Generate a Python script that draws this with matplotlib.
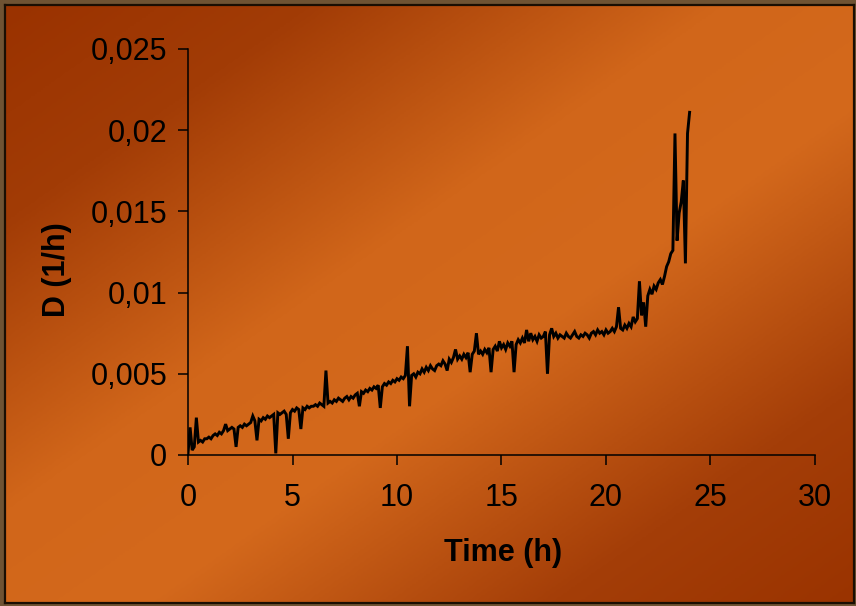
import numpy as np
import matplotlib
matplotlib.use("Agg")
import matplotlib.pyplot as plt
from matplotlib.colors import LinearSegmentedColormap
from matplotlib.ticker import FuncFormatter

# ---- data (D in units of 1e-3 1/h, sampled every 0.1 h) ----
time_h = np.round(np.arange(0, 24.05, 0.1), 1)
d_milli = [
    0.1, 1.7, 0.3, 0.5, 2.3, 0.8, 0.9, 0.8, 1.0, 1.0,
    1.1, 1.0, 1.2, 1.3, 1.2, 1.4, 1.3, 1.5, 1.9, 1.5,
    1.6, 1.7, 1.6, 0.5, 1.7, 1.8, 1.7, 1.9, 1.8, 1.9,
    2.0, 2.4, 2.1, 0.9, 2.2, 2.1, 2.3, 2.2, 2.4, 2.3,
    2.4, 2.5, 0.1, 2.6, 2.5, 2.6, 2.7, 2.5, 1.0, 2.6,
    2.8, 2.7, 2.9, 2.8, 1.6, 2.9, 2.8, 3.0, 2.9, 3.0,
    3.0, 3.1, 3.0, 3.2, 3.1, 3.0, 5.2, 3.2, 3.3, 3.2,
    3.4, 3.3, 3.5, 3.4, 3.3, 3.5, 3.6, 3.4, 3.6, 3.5,
    3.7, 3.8, 3.0, 3.9, 3.8, 4.0, 3.9, 4.1, 4.0, 4.2,
    4.1, 4.3, 2.9, 4.2, 4.4, 4.3, 4.5, 4.4, 4.6, 4.5,
    4.7, 4.6, 4.8, 4.7, 4.9, 6.7, 3.0, 4.9, 5.0, 4.8,
    5.1, 5.0, 5.3, 5.1, 5.4, 5.2, 5.5, 5.3, 5.2, 5.5,
    5.6, 5.5, 5.8, 5.6, 5.2, 5.9, 5.7, 6.0, 6.5, 5.9,
    6.1, 5.9, 6.2, 6.0, 6.3, 5.1, 6.2, 6.4, 7.5, 6.2,
    6.4, 6.2, 6.5, 6.3, 6.6, 5.1, 6.5, 6.7, 6.4, 7.0,
    6.6, 6.8, 6.5, 6.9, 6.7, 7.0, 5.1, 6.8, 7.1, 6.9,
    7.2, 6.9, 7.7, 7.0, 7.5, 7.1, 7.3, 7.0, 7.4, 7.2,
    7.3, 7.6, 5.0, 7.4, 7.8, 7.3, 7.5, 7.2, 7.4, 7.3,
    7.2, 7.5, 7.3, 7.2, 7.4, 7.6, 7.3, 7.2, 7.4, 7.3,
    7.5, 7.4, 7.2, 7.5, 7.6, 7.4, 7.7, 7.5, 7.6, 7.4,
    7.7, 7.5, 7.6, 7.8, 7.6, 7.9, 9.1, 7.8, 7.7, 8.0,
    7.8, 8.1, 7.9, 8.5, 8.2, 8.4, 10.7, 8.6, 9.4, 7.9,
    9.8, 10.2, 9.9, 10.4, 10.2, 10.6, 10.8, 10.5, 11.0, 11.6,
    11.9, 12.4, 12.6, 19.8, 13.2, 14.9, 15.6, 16.9, 11.8, 19.8,
    21.1,
]
d_values = np.array(d_milli) * 1e-3

x_ticks = [0, 5, 10, 15, 20, 25, 30]
y_ticks = [0, 0.005, 0.01, 0.015, 0.02, 0.025]
x_label = "Time (h)"
y_label = "D (1/h)"

# ---- figure ----
W, H = 856, 606
fig = plt.figure(figsize=(W / 100, H / 100), dpi=100)
fig.patch.set_facecolor("#6f5333")
plt.rcParams["font.family"] = ["Liberation Sans", "DejaVu Sans"]

# gradient background
bg = fig.add_axes([5 / W, 3 / H, 849 / W, 598 / H])
bg.set_zorder(-10)
ny, nx = 300, 430
yy, xx = np.mgrid[0:ny, 0:nx]
s = (xx / nx) * 0.5 + (yy / ny) * 0.5
cmap = LinearSegmentedColormap.from_list(
    "bg",
    [(0.0, "#9a3200"), (0.18, "#a23c06"), (0.42, "#d1661a"),
     (0.58, "#d4691c"), (0.82, "#a43e08"), (1.0, "#9a3300")])
bg.imshow(s, cmap=cmap, aspect="auto", extent=[0, 1, 0, 1], origin="upper",
          vmin=0, vmax=1, interpolation="bilinear")
bg.set_xlim(0, 1)
bg.set_ylim(0, 1)
bg.set_xticks([])
bg.set_yticks([])
for sp in bg.spines.values():
    sp.set_color("#1a0e02")
    sp.set_linewidth(1.6)

ax = fig.add_axes([188 / W, 1 - 455 / H, (815 - 188) / W, (455 - 49) / H])
ax.patch.set_alpha(0)
ax.plot(time_h, d_values, color="black", lw=2.1, solid_joinstyle="miter")

ax.set_xlim(0, 30)
ax.set_ylim(0, 0.025)
ax.set_xticks(x_ticks)
ax.set_yticks(y_ticks)
ax.xaxis.set_major_formatter(FuncFormatter(lambda v, p: f"{v:g}"))
ax.yaxis.set_major_formatter(
    FuncFormatter(lambda v, p: ("0" if v == 0 else f"{v:g}".replace(".", ","))))
for side in ["top", "right"]:
    ax.spines[side].set_visible(False)
for side in ["left", "bottom"]:
    ax.spines[side].set_linewidth(1.1)
    ax.spines[side].set_color("black")
ax.tick_params(axis="both", direction="out", length=7, width=1.1,
               colors="black", labelsize=22)
ax.tick_params(axis="y", pad=8)
ax.tick_params(axis="x", pad=13)

fig.text(503 / W, 1 - 553 / H, x_label, fontsize=22, fontweight="bold",
         ha="center", va="center")
fig.text(57 / W, 1 - 270 / H, y_label, fontsize=22, fontweight="bold",
         ha="center", va="center", rotation=90)

fig.savefig("out.png", dpi=100, facecolor=fig.get_facecolor())
